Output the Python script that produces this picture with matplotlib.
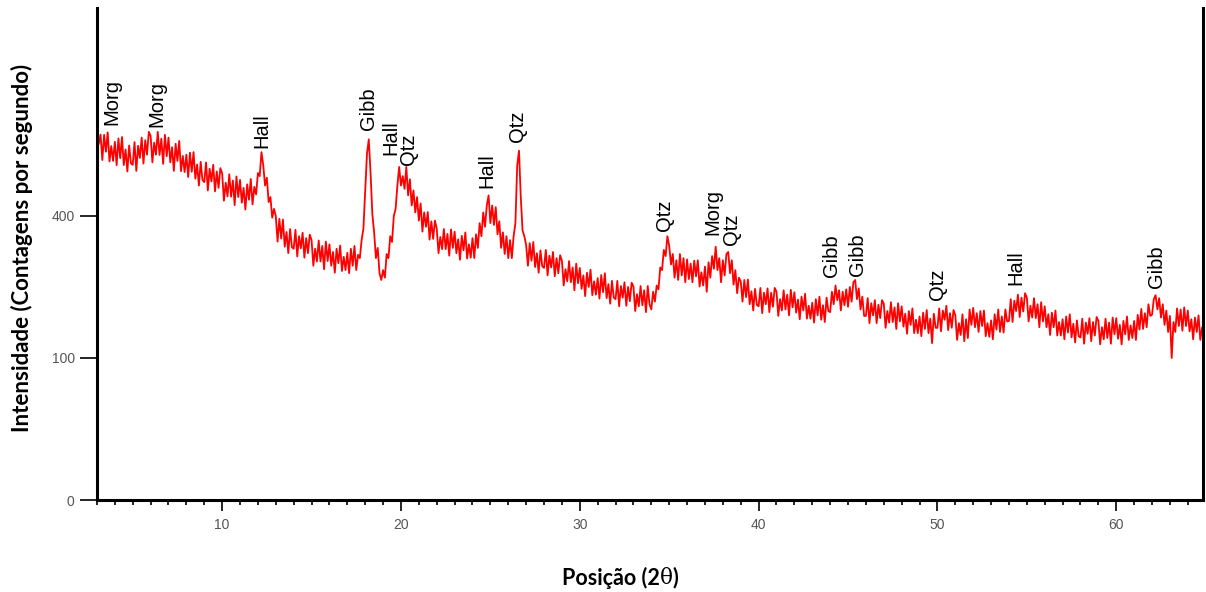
import numpy as np
import matplotlib
matplotlib.use("Agg")
import matplotlib.pyplot as plt
from matplotlib.text import Annotation
from matplotlib.ticker import MultipleLocator, FixedLocator

# 2-theta positions: 3.0 .. 65.0 in 0.1 degree steps
two_theta_start = 3.0
two_theta_step = 0.1

# Intensity (counts per second), one row per degree
intensity = [
    700, 628, 662, 573, 661, 601, 670, 568, 621, 570,   # 3
    636, 556, 648, 579, 653, 556, 609, 535, 623, 562,   # 4
    557, 635, 537, 622, 580, 651, 561, 642, 591, 672,   # 5
    657, 565, 633, 591, 672, 590, 647, 560, 661, 586,   # 6
    651, 565, 617, 537, 629, 570, 639, 536, 587, 533,   # 7
    591, 517, 598, 534, 600, 512, 558, 490, 567, 508,   # 8
    501, 565, 475, 544, 503, 557, 472, 535, 483, 546,   # 9
    529, 444, 499, 457, 526, 456, 506, 431, 519, 455,   # 10
    508, 438, 483, 418, 494, 447, 511, 433, 486, 463,   # 11
    530, 520, 600, 555, 490, 515, 440, 455, 395, 420,   # 12
    400, 331, 392, 339, 390, 318, 356, 302, 364, 317,   # 13
    313, 362, 294, 345, 314, 354, 291, 340, 302, 349,   # 14
    335, 272, 313, 282, 334, 282, 320, 264, 331, 283,   # 15
    324, 272, 305, 256, 313, 278, 321, 260, 293, 262,   # 16
    303, 255, 313, 272, 320, 262, 298, 290, 335, 365,   # 17
    470, 595, 645, 530, 405, 355, 290, 315, 255, 240,   # 18
    262, 245, 300, 290, 345, 330, 400, 420, 490, 550,   # 19
    490, 520, 480, 550, 460, 510, 430, 475, 410, 455,   # 20
    387, 436, 357, 410, 370, 411, 336, 385, 338, 387,   # 21
    365, 302, 343, 312, 364, 312, 351, 296, 363, 315,   # 22
    357, 302, 337, 286, 346, 309, 355, 289, 324, 291,   # 23
    340, 290, 350, 315, 380, 345, 410, 370, 430, 460,   # 24
    380, 430, 375, 425, 350, 385, 315, 355, 300, 345,   # 25
    290, 335, 290, 345, 380, 555, 605, 455, 360, 345,   # 26
    322, 272, 327, 284, 330, 269, 302, 256, 309, 271,   # 27
    267, 310, 250, 296, 268, 305, 248, 290, 255, 297,   # 28
    284, 228, 264, 237, 283, 235, 268, 218, 277, 233,   # 29
    267, 221, 250, 206, 256, 225, 263, 208, 237, 209,   # 30
    244, 201, 251, 214, 255, 202, 231, 191, 238, 203,   # 31
    200, 238, 186, 227, 203, 235, 187, 225, 196, 234,   # 32
    226, 177, 210, 186, 227, 188, 218, 175, 227, 190,   # 33
    180, 215, 195, 228, 220, 268, 262, 310, 295, 345,   # 34
    320, 275, 300, 245, 285, 240, 300, 250, 290, 235,   # 35
    287, 242, 277, 235, 284, 248, 285, 226, 257, 228,   # 36
    270, 215, 280, 245, 295, 265, 318, 262, 290, 235,   # 37
    285, 250, 300, 305, 255, 285, 230, 262, 212, 245,   # 38
    237, 195, 240, 204, 241, 190, 216, 178, 221, 189,   # 39
    186, 223, 173, 213, 190, 222, 175, 213, 185, 223,   # 40
    215, 168, 200, 178, 218, 180, 209, 169, 219, 184,   # 41
    214, 174, 199, 162, 205, 178, 211, 163, 187, 163,   # 42
    193, 156, 200, 169, 205, 161, 188, 157, 203, 177,   # 43
    175, 215, 190, 228, 198, 218, 178, 215, 188, 220,   # 44
    185, 225, 195, 235, 240, 200, 222, 180, 205, 168,   # 45
    168, 202, 155, 192, 169, 198, 155, 189, 164, 198,   # 46
    191, 147, 177, 156, 194, 157, 184, 145, 192, 158,   # 47
    186, 149, 172, 137, 177, 152, 182, 138, 161, 138,   # 48
    167, 133, 174, 145, 179, 138, 163, 122, 172, 147,   # 49
    147, 182, 141, 178, 161, 187, 143, 173, 147, 179,   # 50
    169, 127, 155, 135, 171, 125, 162, 130, 180, 152,   # 51
    183, 148, 173, 140, 177, 150, 178, 133, 155, 132,   # 52
    160, 128, 171, 144, 180, 140, 167, 139, 180, 158,   # 53
    159, 200, 157, 197, 177, 209, 166, 203, 176, 212,   # 54
    203, 158, 187, 165, 202, 164, 190, 148, 194, 158,   # 55
    186, 148, 171, 135, 174, 148, 178, 134, 157, 134,   # 56
    162, 128, 167, 139, 171, 131, 154, 123, 160, 133,   # 57
    131, 163, 121, 156, 137, 164, 125, 157, 134, 166,   # 58
    159, 120, 148, 128, 163, 130, 156, 121, 165, 136,   # 59
    164, 129, 152, 120, 159, 136, 167, 127, 151, 130,   # 60
    159, 127, 170, 144, 181, 145, 173, 148, 190, 168,   # 61
    170, 200, 208, 180, 202, 165, 190, 152, 178, 140,   # 62
    168, 100, 157, 140, 182, 150, 180, 142, 184, 150,   # 63
    178, 141, 162, 128, 165, 140, 169, 127, 148, 126,   # 64
    140,                                                # 65
]

# Phase labels: name, 2-theta, intensity at the foot of the label
peak_names = ["Morg", "Morg", "Hall", "Gibb", "Hall", "Qtz", "Hall", "Qtz",
              "Qtz", "Morg", "Qtz", "Gibb", "Gibb", "Qtz", "Hall", "Gibb"]
peak_pos = [3.85, 6.37, 12.23, 18.16, 19.45, 20.42, 24.8, 26.54,
            34.75, 37.43, 38.49, 44.08, 45.53, 50.0, 54.41, 62.23]
label_base = [697, 690, 614, 679, 590, 557, 483, 636,
              359, 348, 322, 247, 249, 198, 229, 223]

x_ticks = [10, 20, 30, 40, 50, 60]
y_ticks = [0, 100, 400]

two_theta = two_theta_start + two_theta_step * np.arange(len(intensity))

fig = plt.figure(figsize=(12.06, 5.92), dpi=100)
ax = fig.add_axes([0.0804, 0.1554, 0.9171, 0.8311])

ax.plot(two_theta, intensity, color="#ff0000", linewidth=1.3)

ax.set_yscale("function", functions=(lambda v: np.sqrt(np.clip(v, 0, None)),
                                     lambda v: np.asarray(v) ** 2))
ax.set_xlim(3.0, 64.85)
ax.set_ylim(0, 1200)

ax.yaxis.set_major_locator(FixedLocator(y_ticks))
ax.yaxis.set_minor_locator(FixedLocator([]))
ax.set_yticklabels([str(t) for t in y_ticks])
ax.xaxis.set_major_locator(FixedLocator(x_ticks))
ax.xaxis.set_minor_locator(MultipleLocator(1))

for s in ["left", "bottom", "right"]:
    ax.spines[s].set_linewidth(2.2)
    ax.spines[s].set_color("black")
ax.spines["top"].set_visible(False)

ax.tick_params(axis="x", which="major", direction="out", length=8, width=1.2,
               colors="black", labelcolor="#555555", labelsize=10, pad=5)
ax.tick_params(axis="x", which="minor", direction="out", length=3.5, width=1.2)
ax.tick_params(axis="y", which="major", direction="out", length=12, width=1.2,
               colors="black", labelcolor="#555555", labelsize=10, pad=4)
for lab in ax.get_xticklabels() + ax.get_yticklabels():
    lab.set_family("Liberation Sans")

for name, xp, yb in zip(peak_names, peak_pos, label_base):
    ax.text(xp, yb, name, rotation=90, ha="center", va="bottom",
            fontsize=14.5, family="Liberation Sans", color="black")

fig.text(0.018, 0.581, "Intensidade (Contagens por segundo)", rotation=90,
         ha="center", va="center", fontsize=16, fontweight="bold",
         family=["Lato", "DejaVu Sans"])

# x label: bold sans text with an upright serif theta
t1 = fig.text(0.466, 0.024, "Posição (2", ha="left", va="center",
              fontsize=15.5, fontweight="bold", family="Lato")
ann_theta = fig.add_artist(Annotation(
    "θ", xy=(1.0, 0.0), xycoords=t1, ha="left", va="bottom",
    fontsize=15.5, family="DejaVu Serif"))
fig.add_artist(Annotation(
    ")", xy=(1.0, 0.0), xycoords=ann_theta, ha="left", va="bottom",
    fontsize=15.5, fontweight="bold", family="Lato"))

fig.savefig("out.png", dpi=100, facecolor="white")
